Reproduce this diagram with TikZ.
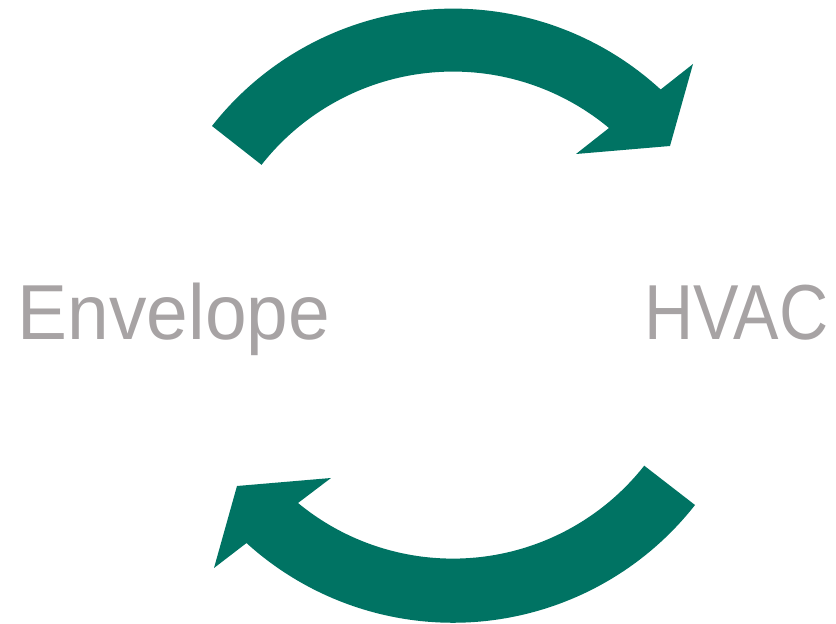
\documentclass[tikz,border=0pt]{standalone}
\usepackage{fontspec}
\usepackage{graphicx}
\setmainfont[FakeStretch=0.96]{Liberation Sans}
\definecolor{arrowgreen}{HTML}{007363}
\definecolor{labelgrey}{HTML}{A7A3A4}
\tikzset{
  cyclearrow/.style={fill=arrowgreen,draw=none},
  label/.style={text=labelgrey,inner sep=0pt,font=\fontsize{78}{78}\selectfont,anchor=base}
}
\begin{document}
\begin{tikzpicture}[x=1pt,y=1pt]
\useasboundingbox (0,0) rectangle (836,624);
\coordinate (c) at (453,309);
% top arrow
\fill[cyclearrow] (212,498) arc[start angle=141.9,end angle=47.4,radius=306.5]
  -- (693,560) -- (670,478) -- (576,470) -- (609,496)
  arc[start angle=50.2,end angle=141.9,radius=243.5] -- cycle;
% bottom arrow
\fill[cyclearrow] (695,119) arc[start angle=-38.1,end angle=-132.2,radius=307.5]
  -- (214,56) -- (237,138) -- (331,146) -- (298,121)
  arc[start angle=-129.5,end angle=-38.2,radius=243.5] -- cycle;
\node[label] (env) at (174,284) {Envelope};
\node[label] (hvac) at (736.5,284) {\scalebox{0.91}[1]{HVAC}};
\end{tikzpicture}
\end{document}
